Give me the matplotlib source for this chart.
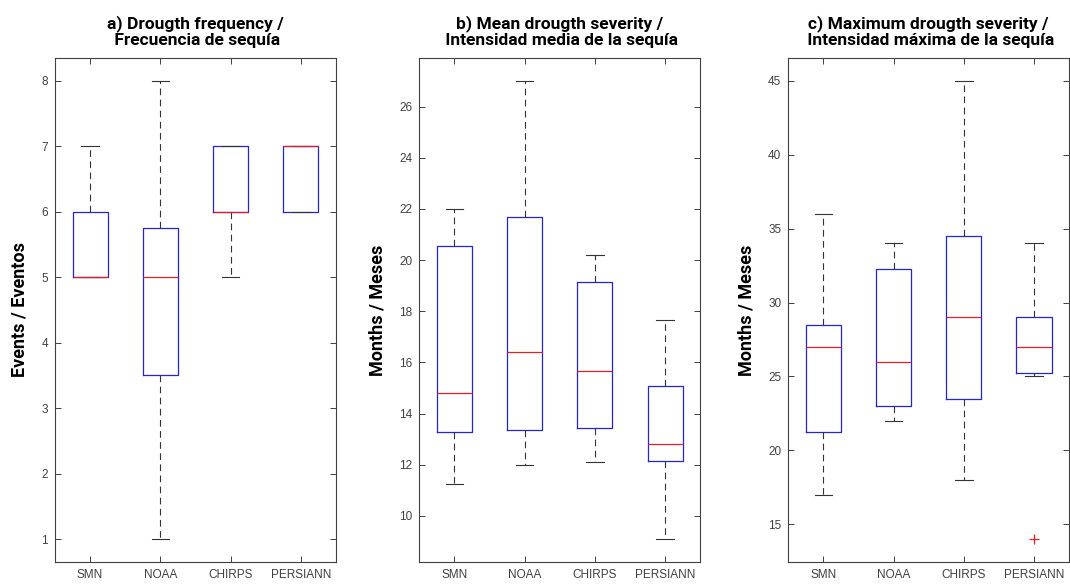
import matplotlib
matplotlib.use("Agg")
import matplotlib.pyplot as plt
from matplotlib import font_manager

# --- data ---
sources = ["SMN", "NOAA", "CHIRPS", "PERSIANN"]

freq_lo = [5, 1, 5, 6]
freq_q1 = [5, 3.5, 6, 6]
freq_med = [5, 5, 6, 7]
freq_q3 = [6, 5.75, 7, 7]
freq_hi = [7, 8, 7, 7]
freq_out = [[], [], [], []]

mean_lo = [11.25, 12.0, 12.1, 9.1]
mean_q1 = [13.3, 13.35, 13.42, 12.15]
mean_med = [14.8, 16.4, 15.65, 12.83]
mean_q3 = [20.57, 21.67, 19.15, 15.08]
mean_hi = [22.0, 27.0, 20.2, 17.65]
mean_out = [[], [], [], []]

max_lo = [17, 22, 18, 25]
max_q1 = [21.25, 23.0, 23.5, 25.25]
max_med = [27, 26, 29, 27]
max_q3 = [28.5, 32.25, 34.5, 29]
max_hi = [36, 34, 45, 34]
max_out = [[], [], [], [14]]

titles = ["a) Drougth frequency /\n Frecuencia de sequía",
          "b) Mean drougth severity /\n Intensidad media de la sequía",
          "c) Maximum drougth severity /\n Intensidad máxima de la sequía"]
ylabels = ["Events / Eventos", "Months / Meses", "Months / Meses"]
yticks = [range(1, 9), range(10, 27, 2), range(15, 46, 5)]
ylims = [(0.65, 8.35), (8.2, 27.9), (12.45, 46.55)]

installed = {f.name for f in font_manager.fontManager.ttflist}
narrow = "Liberation Sans Narrow" if "Liberation Sans Narrow" in installed else "Roboto"


def stats(lo, q1, med, q3, hi, out):
    return [dict(whislo=a, q1=b, med=c, q3=d, whishi=e, fliers=f, label=s)
            for a, b, c, d, e, f, s in zip(lo, q1, med, q3, hi, out, sources)]


panels = [stats(freq_lo, freq_q1, freq_med, freq_q3, freq_hi, freq_out),
          stats(mean_lo, mean_q1, mean_med, mean_q3, mean_hi, mean_out),
          stats(max_lo, max_q1, max_med, max_q3, max_hi, max_out)]

fig = plt.figure(figsize=(10.70, 5.84), dpi=100)
lefts = [0.0514, 0.3919, 0.7367]
gray = "#404040"

for i, st in enumerate(panels):
    ax = fig.add_axes([lefts[i], 0.0377, 0.2625, 0.863])
    ax.bxp(st, positions=[1, 2, 3, 4], widths=0.5, capwidths=0.25,
           boxprops=dict(color="#2525d0", linewidth=0.9),
           medianprops=dict(color="#e0202a", linewidth=0.9),
           whiskerprops=dict(color="#333333", linewidth=0.8, linestyle=(0, (6, 4))),
           capprops=dict(color="#333333", linewidth=0.8),
           flierprops=dict(marker="+", markeredgecolor="#e0202a", markersize=7,
                           markeredgewidth=0.9, linestyle="none"))
    ax.set_xlim(0.5, 4.5)
    ax.set_ylim(*ylims[i])
    ax.set_yticks(list(yticks[i]))
    ax.set_xticks([1, 2, 3, 4])
    ax.set_xticklabels(sources)
    ax.tick_params(direction="in", length=4, width=0.7, color=gray,
                   top=True, right=True, labelsize=8.5, labelcolor=gray,
                   pad=5)
    for lab in ax.get_xticklabels() + ax.get_yticklabels():
        lab.set_fontfamily("Liberation Sans")
    for sp in ax.spines.values():
        sp.set_color(gray)
        sp.set_linewidth(0.8)
    ax.set_title(titles[i], fontsize=12.5, fontweight="bold", family=narrow,
                 pad=9, linespacing=1.15)
    ax.set_ylabel(ylabels[i], fontsize=13, fontweight="bold", family=narrow,
                  labelpad=9)

fig.savefig("out.png", dpi=100)
